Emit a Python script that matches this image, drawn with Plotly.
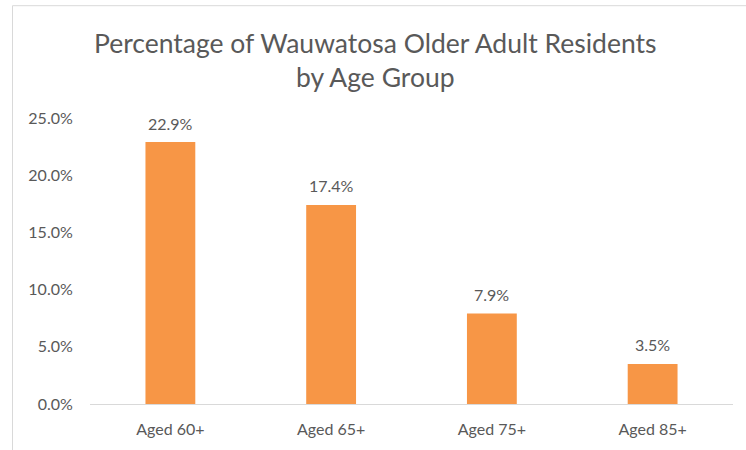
import plotly.graph_objects as go

categories = ["Aged 60+", "Aged 65+", "Aged 75+", "Aged 85+"]
values = [22.9, 17.4, 7.9, 3.5]
value_labels = ["22.9%", "17.4%", "7.9%", "3.5%"]
y_ticks = [0, 5, 10, 15, 20, 25]
y_tick_labels = ["0.0%", "5.0%", "10.0%", "15.0%", "20.0%", "25.0%"]

FONT = "Lato, Open Sans, sans-serif"
GRAY = "#595959"

W, H = 746, 450
L, R, T, B = 90, 746 - 733, 118, 450 - 404.5

fig = go.Figure(
    go.Bar(
        x=categories,
        y=values,
        marker=dict(color="#F79646", line=dict(width=0)),
        hoverinfo="skip",
    )
)

for c, v, t in zip(categories, values, value_labels):
    fig.add_annotation(
        x=c, y=v, text=t, showarrow=False, yanchor="middle", yshift=19,
        font=dict(family=FONT, size=16, color=GRAY),
    )

pw = W - L - R
ph = H - T - B
def px_x(px):
    return (px - L) / pw
def px_y(py):
    return (H - B - py) / ph

border = dict(color="#d9d9d9", width=1)
fig.add_shape(type="line", xref="paper", yref="paper",
              x0=px_x(12.5), x1=px_x(760), y0=px_y(5.5), y1=px_y(5.5), line=border)
fig.add_shape(type="line", xref="paper", yref="paper",
              x0=px_x(12.5), x1=px_x(12.5), y0=px_y(5.5), y1=px_y(460), line=border)

fig.update_layout(
    width=W, height=H,
    margin=dict(l=L, r=R, t=T, b=B, pad=0),
    paper_bgcolor="white", plot_bgcolor="white",
    bargap=0.69,
    showlegend=False,
    title=dict(
        text="Percentage of Wauwatosa Older Adult Residents<br>by Age Group",
        x=0.503, xanchor="center", y=1 - 53 / H, yanchor="middle",
        font=dict(family=FONT, size=26.5, color=GRAY),
    ),
    font=dict(family=FONT, color=GRAY),
    xaxis=dict(
        showgrid=False, showline=True, linecolor="#d9d9d9", linewidth=1,
        ticks="outside", ticklen=11, tickcolor="rgba(0,0,0,0)",
        tickfont=dict(family=FONT, size=16, color=GRAY),
        fixedrange=True,
    ),
    yaxis=dict(
        range=[0, 25], tickvals=y_ticks, ticktext=y_tick_labels,
        showgrid=False, showline=False, zeroline=False,
        ticks="outside", ticklen=13, tickcolor="rgba(0,0,0,0)",
        tickfont=dict(family=FONT, size=16, color=GRAY),
        fixedrange=True,
    ),
)

fig.write_html(
    "out.html",
    config={"displayModeBar": False},
    post_script="document.body.style.margin='0';document.body.style.padding='0';",
)
